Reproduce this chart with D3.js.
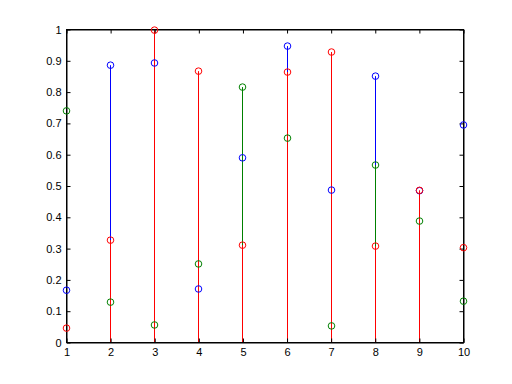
<!DOCTYPE html>
<html><head><meta charset="utf-8">
<script src="https://cdn.jsdelivr.net/npm/d3@7"></script>
<style>html,body{margin:0;padding:0;background:#fff;}svg{display:block;}</style>
</head><body>
<svg id="c" width="512" height="384"></svg>
<script>
const xs = [1,2,3,4,5,6,7,8,9,10];
const blueVals  = [0.167,0.886,0.893,0.171,0.590,0.947,0.487,0.851,0.485,0.695];
const greenVals = [0.740,0.129,0.056,0.251,0.816,0.653,0.053,0.567,0.388,0.132];
const redVals   = [0.046,0.327,0.998,0.867,0.311,0.864,0.928,0.308,0.486,0.303];
const xTicks = [1,2,3,4,5,6,7,8,9,10];
const yTicks = [0,0.1,0.2,0.3,0.4,0.5,0.6,0.7,0.8,0.9,1];
const seriesList = [
  {name:"blue", vals: blueVals, color:"#0000ff"},
  {name:"green", vals: greenVals, color:"#008000"},
  {name:"red", vals: redVals, color:"#ff0000"}
];

const svg = d3.select("#c");
const L = 66.5, R = 463.5, T = 29.5, B = 342.5;
const x = d3.scaleLinear().domain([1,10]).range([L,R]);
const y = d3.scaleLinear().domain([0,1]).range([B,T]);
const px = v => Math.round(x(v)-0.5)+0.5;

// stems
seriesList.forEach(s => {
  svg.append("g").selectAll("line").data(xs).join("line")
    .attr("x1", d => px(d)).attr("x2", d => px(d))
    .attr("y1", y(0)).attr("y2", (d,i) => y(s.vals[i]))
    .attr("stroke", s.color).attr("stroke-width", 1);
});

// axes
const font = "'Liberation Sans', Arial, sans-serif";
const ax = svg.append("g");
ax.append("rect").attr("x",L).attr("y",T).attr("width",R-L).attr("height",B-T)
  .attr("fill","none").attr("stroke","#000").attr("stroke-width",1);
const tl = 4;
const gb = svg.append("g").attr("transform",`translate(0,${B})`)
  .call(d3.axisBottom(x).tickValues(xTicks).tickSizeInner(-tl).tickSizeOuter(0).tickPadding(6).tickFormat(d3.format("d")));
const gt = svg.append("g").attr("transform",`translate(0,${T})`)
  .call(d3.axisTop(x).tickValues(xTicks).tickSizeInner(-tl).tickSizeOuter(0).tickFormat(""));
const gl = svg.append("g").attr("transform",`translate(${L},0)`)
  .call(d3.axisLeft(y).tickValues(yTicks).tickSizeInner(-tl).tickSizeOuter(0).tickPadding(5).tickFormat(d => d===0||d===1 ? String(d) : d3.format(".1f")(d)));
const gr = svg.append("g").attr("transform",`translate(${R},0)`)
  .call(d3.axisRight(y).tickValues(yTicks).tickSizeInner(-tl).tickSizeOuter(0).tickFormat(""));
[gb,gt,gl,gr].forEach(g => {
  g.select(".domain").attr("stroke","#000");
  g.selectAll(".tick line").attr("stroke","#000");
  g.selectAll("text").attr("fill","#000").style("font-family",font).style("font-size","11px");
});
gb.selectAll("text").attr("dy","0.71em");

// markers
seriesList.forEach(s => {
  svg.append("g").selectAll("circle").data(xs).join("circle")
    .attr("cx", d => px(d)).attr("cy", (d,i) => y(s.vals[i]))
    .attr("r", 3.3).attr("fill","none").attr("stroke", s.color).attr("stroke-width",1);
});
</script>
</body></html>
